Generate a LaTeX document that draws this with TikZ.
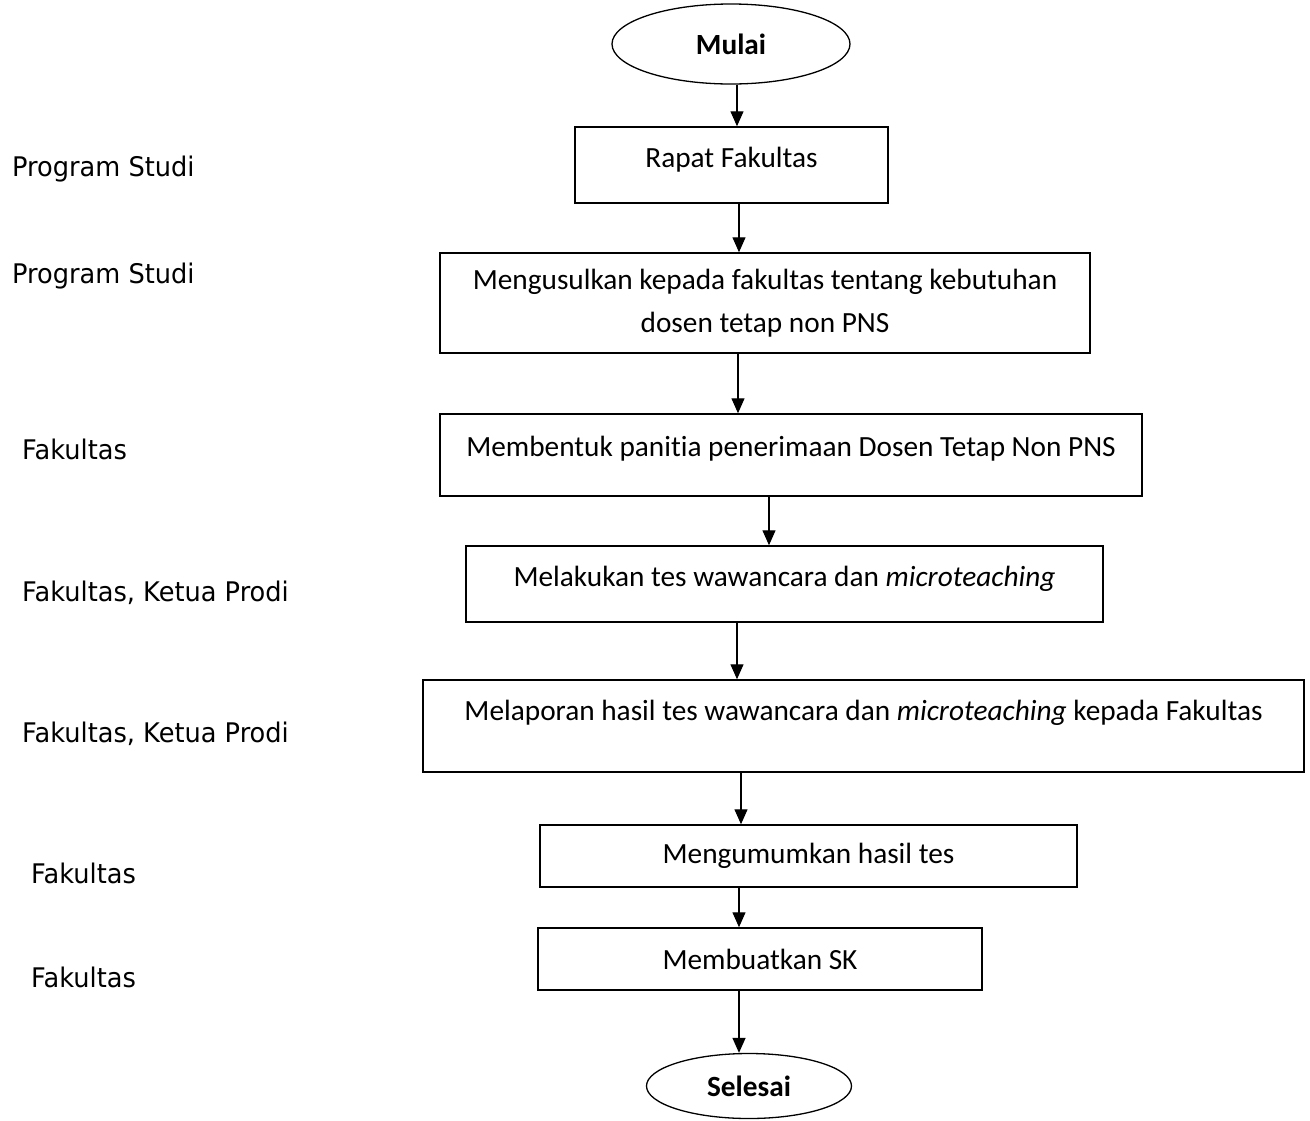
\documentclass[tikz,border=0pt]{standalone}
\usepackage{fontspec}
\setmainfont{Carlito}[Ligatures=NoCommon]
\newfontfamily\rolefont[FakeStretch=0.95]{DejaVu Sans}
\usetikzlibrary{shapes.geometric,arrows.meta}
\begin{document}
\begin{tikzpicture}[x=1pt,y=-1pt,
    procbox/.style={draw,line width=1.5pt,rectangle,align=center,inner sep=0pt,
      font=\fontsize{29.3}{35}\selectfont},
    terminal/.style={draw,line width=1.3pt,ellipse,inner sep=0pt,
      font=\bfseries\fontsize{29.3}{35}\selectfont},
    flow/.style={line width=1.3pt,-{Triangle[width=13pt,length=15pt]}},
    role/.style={anchor=base west,inner sep=0pt,font=\rolefont\fontsize{27}{32}\selectfont},
    topped/.style={text height=20pt,text depth=#1}]
      \useasboundingbox (0,0) rectangle (1310,1120);
      \node[terminal,minimum width=238pt,minimum height=80pt] (mulai) at (731,44) {Mulai};
      \node[procbox,minimum width=313pt,minimum height=76pt,topped=16pt] (rapat) at (731.5,165) {Rapat Fakultas};
      \node[procbox,minimum width=650pt,minimum height=100pt] (usul) at (765,303)
        {Mengusulkan kepada fakultas tentang kebutuhan\\[8pt]dosen tetap non PNS};
      \node[procbox,minimum width=702pt,minimum height=82pt,topped=18pt] (panitia) at (791,455)
        {Membentuk panitia penerimaan Dosen Tetap Non PNS};
      \node[procbox,minimum width=637pt,minimum height=76pt,topped=16pt] (tes) at (784.5,584)
        {Melakukan tes wawancara dan \textit{microteaching}};
      \node[procbox,minimum width=881pt,minimum height=92pt,topped=32pt] (lapor) at (863.5,726)
        {Melaporan hasil tes wawancara dan \textit{microteaching} kepada Fakultas};
      \node[procbox,minimum width=537pt,minimum height=62pt] (umum) at (808.5,856) {Mengumumkan hasil tes};
      \node[procbox,minimum width=444pt,minimum height=62pt] (sk) at (760,959) {Membuatkan SK};
      \node[terminal,minimum width=205pt,minimum height=65pt] (selesai) at (749,1086) {Selesai};

      \node[role] (r1) at (12,176) {Program Studi};
      \node[role] (r2) at (12,283) {Program Studi};
      \node[role] (r3) at (22,459) {Fakultas};
      \node[role] (r4) at (22,601) {Fakultas, Ketua Prodi};
      \node[role] (r5) at (22,742) {Fakultas, Ketua Prodi};
      \node[role] (r6) at (31,883) {Fakultas};
      \node[role] (r7) at (31,987) {Fakultas};

      \draw[flow] ([xshift=6pt]mulai.south) -- ([xshift=6pt]mulai.south |- rapat.north);
      \draw[flow] ([xshift=7.5pt]rapat.south) -- ([xshift=7.5pt]rapat.south |- usul.north);
      \draw[flow] ([xshift=-27pt]usul.south) -- ([xshift=-27pt]usul.south |- panitia.north);
      \draw[flow] ([xshift=-22pt]panitia.south) -- ([xshift=-22pt]panitia.south |- tes.north);
      \draw[flow] ([xshift=-47.5pt]tes.south) -- ([xshift=-47.5pt]tes.south |- lapor.north);
      \draw[flow] ([xshift=-122.5pt]lapor.south) -- ([xshift=-122.5pt]lapor.south |- umum.north);
      \draw[flow] ([xshift=-69.5pt]umum.south) -- ([xshift=-69.5pt]umum.south |- sk.north);
      \draw[flow] ([xshift=-21pt]sk.south) -- ([xshift=-21pt]sk.south |- selesai.north);
\end{tikzpicture}
\end{document}
